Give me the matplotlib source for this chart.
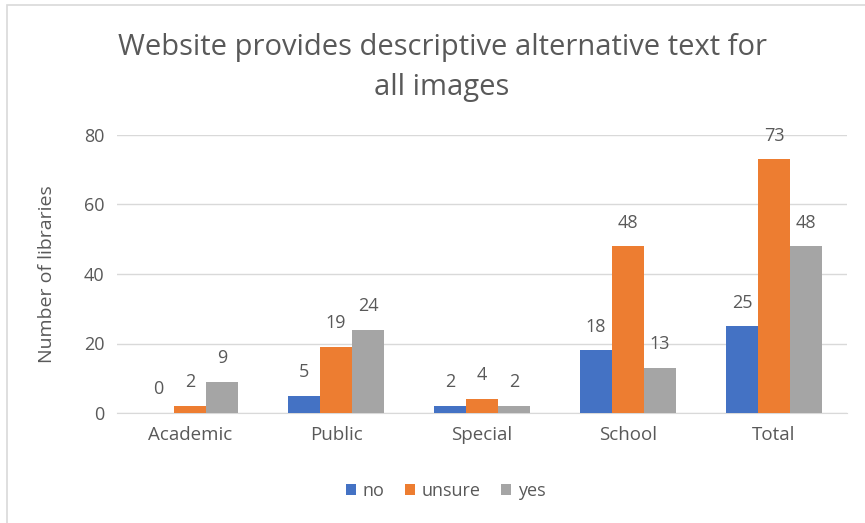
import matplotlib
matplotlib.use("Agg")
import matplotlib.pyplot as plt
import numpy as np
from matplotlib.patches import Rectangle

categories = ["Academic", "Public", "Special", "School", "Total"]
no_vals = [0, 5, 2, 18, 25]
unsure_vals = [2, 19, 4, 48, 73]
yes_vals = [9, 24, 2, 13, 48]
series_names = ["no", "unsure", "yes"]
series_colors = ["#4472C4", "#ED7D31", "#A5A5A5"]
y_ticks = [0, 20, 40, 60, 80]

TEXT = "#595959"
plt.rcParams["font.family"] = ["Open Sans", "DejaVu Sans"]

fig = plt.figure(figsize=(8.65, 5.23), dpi=100)
ax = fig.add_axes([117 / 865, 110 / 523, 730 / 865, 278 / 523])

# light chart border (left and top edges visible in the crop)
fig.add_artist(Rectangle((7 / 865, -0.1), 2, 1.1 - 5 / 523, transform=fig.transFigure,
                         fill=False, edgecolor="#D9D9D9", linewidth=1.2))

x = np.arange(len(categories))
width = 96 / 146 / 3
for i, (vals, name, color) in enumerate(zip([no_vals, unsure_vals, yes_vals],
                                            series_names, series_colors)):
    pos = x + (i - 1) * width
    bars = ax.bar(pos, vals, width, color=color, label=name, zorder=3)
    for b, v in zip(bars, vals):
        ax.annotate(str(v), (b.get_x() + b.get_width() / 2, v), xytext=(0, 17),
                    textcoords="offset points", ha="center", va="center",
                    fontsize=13, color=TEXT)

ax.set_xlim(-0.5, len(categories) - 0.5)
ax.set_ylim(0, 80)
ax.set_yticks(y_ticks)
ax.set_xticks(x)
ax.set_xticklabels(categories, fontsize=13.5, color=TEXT)
ax.tick_params(axis="y", labelsize=13, labelcolor=TEXT, length=0, pad=9)
ax.tick_params(axis="x", length=0, pad=9)
ax.grid(axis="y", color="#D9D9D9", linewidth=1, zorder=0)
for s in ["top", "right", "left"]:
    ax.spines[s].set_visible(False)
ax.spines["bottom"].set_color("#D9D9D9")
ax.set_ylabel("Number of libraries", fontsize=14, color=TEXT, labelpad=20)

fig.text(0.511, 455 / 523, "Website provides descriptive alternative text for\nall images",
         ha="center", va="center", fontsize=21, color=TEXT, linespacing=1.5)

fig.legend(loc="center", bbox_to_anchor=(0.515, 32 / 523), ncol=3, frameon=False,
           fontsize=13, handlelength=0.6, handleheight=0.6, handletextpad=0.35,
           columnspacing=1.1, labelcolor=TEXT)

fig.savefig("out.png", dpi=100)
